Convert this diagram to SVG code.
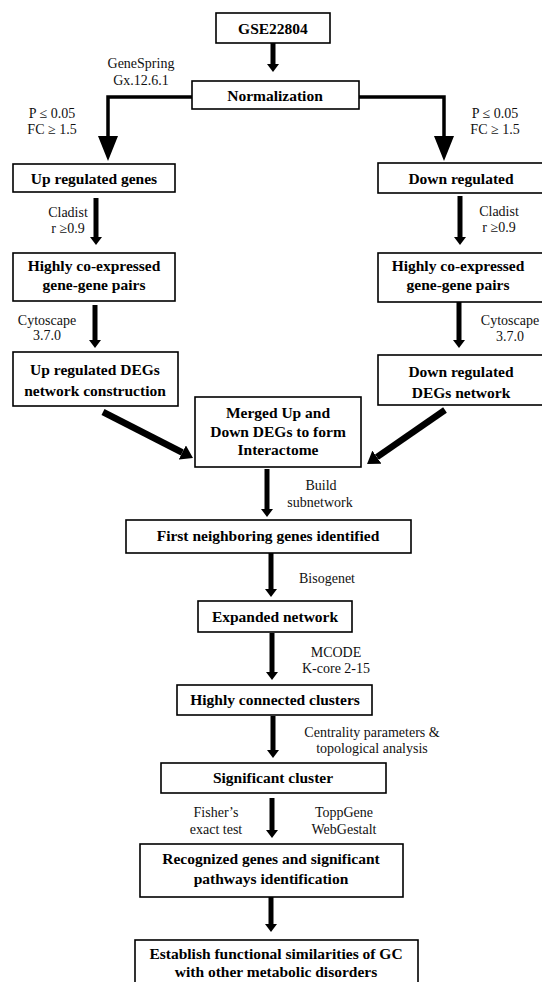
<svg xmlns="http://www.w3.org/2000/svg" width="542" height="982" viewBox="0 0 542 982">
<style>
.box{fill:#fff;stroke:#000;stroke-width:1.6}
.t{font-family:"Liberation Serif","Times New Roman",serif;font-weight:bold;font-size:15.5px;text-anchor:middle;fill:#000}
.l{font-family:"Liberation Serif","Times New Roman",serif;font-size:14px;text-anchor:middle;fill:#111}
.sh{stroke:#000;stroke-width:5;fill:none}
.el{stroke:#000;stroke-width:3.5;fill:none}
.dg{stroke:#000;stroke-width:6.5;fill:none}
</style>
<defs>
<marker id="ah" viewBox="0 0 8 12" refX="0" refY="6" markerWidth="8" markerHeight="12" markerUnits="userSpaceOnUse" orient="auto"><path d="M0,0 L8,6 L0,12 z" fill="#000"/></marker>
<marker id="big" viewBox="0 0 25 20" refX="0" refY="10" markerWidth="25" markerHeight="20" markerUnits="userSpaceOnUse" orient="auto"><path d="M0,0 L25,10 L0,20 z" fill="#000"/></marker>
<marker id="dh" viewBox="0 0 12 16" refX="0" refY="8" markerWidth="12" markerHeight="16" markerUnits="userSpaceOnUse" orient="auto"><path d="M0,0 L12,8 L0,16 z" fill="#000"/></marker>
</defs>
<rect width="542" height="982" fill="#fff"/>

<g id="connectors">
<line class="sh" x1="273" y1="43" x2="273" y2="64" marker-end="url(#ah)"/>
<path class="el" d="M192,97 H108 V136" marker-end="url(#big)"/>
<path class="el" d="M359,97 H444 V136" marker-end="url(#big)"/>
<line class="sh" x1="96" y1="198" x2="96" y2="237" marker-end="url(#ah)"/>
<line class="sh" x1="460" y1="196" x2="460" y2="237" marker-end="url(#ah)"/>
<line class="sh" x1="95" y1="305" x2="95" y2="340" marker-end="url(#ah)"/>
<line class="sh" x1="459" y1="302" x2="459" y2="340" marker-end="url(#ah)"/>
<line class="dg" x1="103" y1="412" x2="182.3" y2="452.5" marker-end="url(#dh)"/>
<line class="dg" x1="445" y1="410" x2="376.9" y2="457.2" marker-end="url(#dh)"/>
<line class="sh" x1="267" y1="469" x2="267" y2="509" marker-end="url(#ah)"/>
<line class="sh" x1="271" y1="553" x2="271" y2="589" marker-end="url(#ah)"/>
<line class="sh" x1="272" y1="633" x2="272" y2="672" marker-end="url(#ah)"/>
<line class="sh" x1="273" y1="716" x2="273" y2="750" marker-end="url(#ah)"/>
<line class="sh" x1="272" y1="798" x2="272" y2="830" marker-end="url(#ah)"/>
<line class="sh" x1="271" y1="897" x2="271" y2="924" marker-end="url(#ah)"/>
</g>

<g id="labels">
<text class="l" x="141" y="68">GeneSpring</text>
<text class="l" x="141" y="85">Gx.12.6.1</text>
<text class="l" x="52" y="118">P ≤ 0.05</text>
<text class="l" x="52" y="134">FC ≥ 1.5</text>
<text class="l" x="495" y="118">P ≤ 0.05</text>
<text class="l" x="495" y="134">FC ≥ 1.5</text>
<text class="l" x="68" y="217">Cladist</text>
<text class="l" x="68" y="233">r ≥0.9</text>
<text class="l" x="499" y="216">Cladist</text>
<text class="l" x="499" y="232">r ≥0.9</text>
<text class="l" x="47" y="325">Cytoscape</text>
<text class="l" x="47" y="340">3.7.0</text>
<text class="l" x="510" y="325">Cytoscape</text>
<text class="l" x="510" y="341">3.7.0</text>
<text class="l" x="321" y="490">Build</text>
<text class="l" x="320" y="507">subnetwork</text>
<text class="l" x="327" y="583">Bisogenet</text>
<text class="l" x="336" y="657">MCODE</text>
<text class="l" x="336" y="673">K-core 2-15</text>
<text class="l" x="372" y="737">Centrality parameters &amp;</text>
<text class="l" x="372" y="753">topological analysis</text>
<text class="l" x="216" y="817">Fisher’s</text>
<text class="l" x="216" y="834">exact test</text>
<text class="l" x="344" y="817">ToppGene</text>
<text class="l" x="344" y="834">WebGestalt</text>
</g>

<g id="n-gse"><rect class="box" x="216" y="13" width="114" height="30"/><text class="t" x="273" y="34">GSE22804</text></g>
<g id="n-norm"><rect class="box" x="192" y="81" width="167" height="28"/><text class="t" x="275" y="101">Normalization</text></g>
<g id="n-up"><rect class="box" x="13" y="164" width="162" height="28"/><text class="t" x="94" y="184">Up regulated genes</text></g>
<g id="n-down"><rect class="box" x="378" y="163" width="168" height="30"/><text class="t" x="461" y="184">Down regulated</text></g>
<g id="n-coexp-up"><rect class="box" x="13" y="253" width="162" height="48"/><text class="t" x="94" y="271">Highly co-expressed</text><text class="t" x="94" y="290">gene-gene pairs</text></g>
<g id="n-coexp-down"><rect class="box" x="378" y="253" width="168" height="49"/><text class="t" x="458" y="271">Highly co-expressed</text><text class="t" x="458" y="290">gene-gene pairs</text></g>
<g id="n-up-net"><rect class="box" x="13" y="352" width="165" height="54"/><text class="t" x="95" y="375">Up regulated DEGs</text><text class="t" x="95" y="396">network construction</text></g>
<g id="n-down-net"><rect class="box" x="378" y="355" width="168" height="50"/><text class="t" x="461" y="377">Down regulated</text><text class="t" x="461" y="398">DEGs network</text></g>
<g id="n-merged"><rect class="box" x="195" y="397" width="166" height="70"/><text class="t" x="278" y="418">Merged Up and</text><text class="t" x="278" y="436.5">Down DEGs to form</text><text class="t" x="278" y="455">Interactome</text></g>
<g id="n-first"><rect class="box" x="126" y="520" width="285" height="33"/><text class="t" x="268" y="541">First neighboring genes identified</text></g>
<g id="n-expanded"><rect class="box" x="198" y="601" width="154" height="31"/><text class="t" x="275" y="622">Expanded network</text></g>
<g id="n-clusters"><rect class="box" x="177" y="685" width="195" height="30"/><text class="t" x="275" y="705">Highly connected clusters</text></g>
<g id="n-sig"><rect class="box" x="161" y="763" width="225" height="30"/><text class="t" x="273" y="783">Significant cluster</text></g>
<g id="n-recog"><rect class="box" x="140" y="844" width="263" height="53"/><text class="t" x="271" y="864">Recognized genes and significant</text><text class="t" x="271" y="884">pathways identification</text></g>
<g id="n-establish"><rect class="box" x="135" y="940" width="283" height="50"/><text class="t" x="276" y="959">Establish functional similarities of GC</text><text class="t" x="276" y="977">with other metabolic disorders</text></g>
</svg>
